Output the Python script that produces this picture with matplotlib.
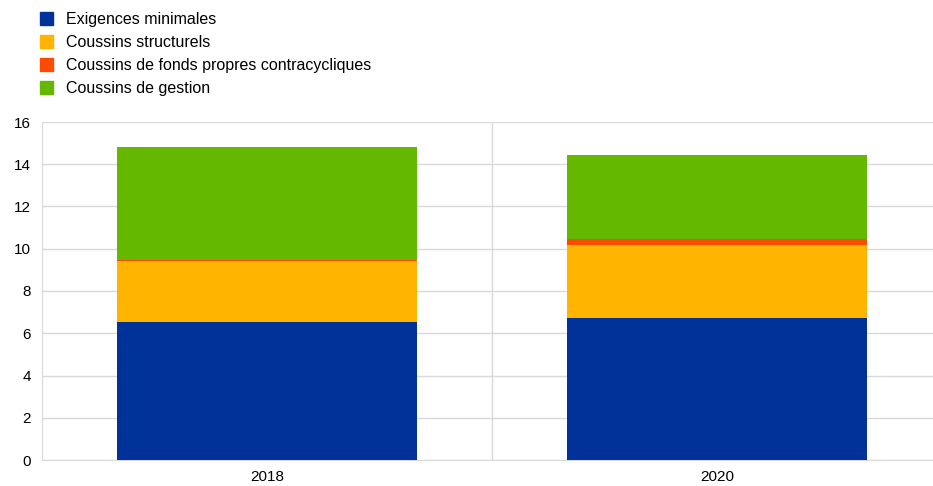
import matplotlib
matplotlib.use('Agg')
import matplotlib.pyplot as plt
from matplotlib.patches import Patch
import numpy as np

plt.rcParams['font.family'] = ['Liberation Sans', 'DejaVu Sans']

# data
years = ['2018', '2020']
series = ['Exigences minimales', 'Coussins structurels',
          'Coussins de fonds propres contracycliques', 'Coussins de gestion']
minimum = [6.55, 6.74]
structural = [2.87, 3.45]
ccyb = [0.03, 0.26]
management = [5.37, 3.97]
colors = ['#003299', '#FFB400', '#FF4B00', '#65B800']

fig = plt.figure(figsize=(9.33, 4.86), dpi=100)
ax = fig.add_axes([42 / 933, 1 - 460 / 486, 891 / 933, 338 / 486])

x = np.arange(len(years))
bottom = np.zeros(len(years))
for vals, col in zip([minimum, structural, ccyb, management], colors):
    ax.bar(x, vals, width=0.667, bottom=bottom, color=col, zorder=3)
    bottom += np.array(vals)

ax.set_xlim(-0.5, 1.48)
ax.set_ylim(0, 16)
ax.set_yticks(range(0, 17, 2))
ax.set_xticks(x)
ax.set_xticklabels(years)
ax.grid(axis='y', color='#d9d9d9', linewidth=1, zorder=0)
ax.axvline(0.5, color='#d9d9d9', linewidth=1, zorder=0)
ax.tick_params(length=0, labelsize=11, colors='black')
ax.tick_params(axis='y', pad=8)
ax.tick_params(axis='x', pad=7)
for s in ['top', 'right']:
    ax.spines[s].set_visible(False)
for s in ['left', 'bottom']:
    ax.spines[s].set_color('#d9d9d9')

handles = [Patch(color=c) for c in colors]
fig.legend(handles, series, loc='upper left', bbox_to_anchor=(40 / 933, 1 - 12 / 486),
           frameon=False, fontsize=11.5, handlelength=0.8, handleheight=0.8,
           handletextpad=0.8, labelspacing=0.5, borderpad=0, borderaxespad=0)

fig.savefig('out.png', dpi=100)
